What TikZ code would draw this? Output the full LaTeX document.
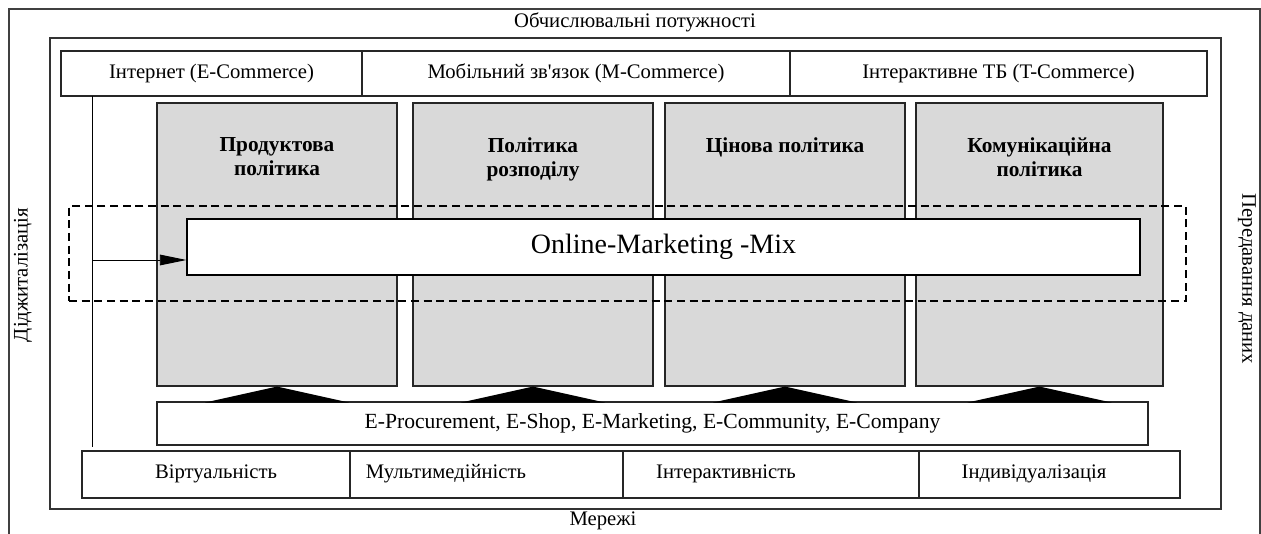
\documentclass[tikz,border=0pt]{standalone}
\usepackage{fontspec}
\setmainfont{Liberation Serif}[Ligatures=TeXOff]
\usetikzlibrary{arrows.meta,fit}

\definecolor{policygrey}{HTML}{D9D9D9}
\newcommand\txtnormal{\fontsize{15.5}{18}\selectfont}
\newcommand\txtwide{\fontsize{16.2}{19}\selectfont}
\newcommand\txtbig{\fontsize{21}{25}\selectfont}
\newcommand\txttitle{\fontsize{16}{18}\selectfont\bfseries}

\tikzset{
  frame/.style={draw=black!75, line width=1pt},
  inframe/.style={draw=black!80, line width=1.2pt, inner sep=0pt},
  cell/.style={draw=black!85, line width=0.8pt, inner sep=0pt},
  policy/.style={draw=black!85, fill=policygrey, line width=0.8pt, inner sep=0pt},
  ptitle/.style={font=\txttitle, align=center, anchor=north, inner sep=0pt},
  mixbox/.style={draw=black, fill=white, line width=0.8pt, inner sep=0pt},
  zone/.style={draw=black, dash pattern=on 6pt off 3.5pt, line width=1pt, inner sep=0pt},
  side/.style={font=\txtnormal, inner sep=0pt},
  bigtext/.style={font=\txtbig, inner sep=0pt},
  wedge/.style={fill=black},
  feed/.style={draw=black, line width=0.7pt},
}

\begin{document}
\begin{tikzpicture}[x=0.75pt,y=-0.75pt]
\useasboundingbox (0,0) rectangle (1261,534);
\clip (0,0) rectangle (1261,534);

% outer frame, open at the bottom
\draw[frame] (9,540) -- (9,9) -- (1260,9) -- (1260,540);
\node[side] (compute) at (635,22) {Обчислювальні потужності};
\node[side, rotate=90] (digital) at (23,275) {Діджиталізація};
\node[side, rotate=-90] (transfer) at (1247,279) {Передавання даних};
\node[side] (networks) at (603,521) {Мережі};

% inner frame
\node[inframe, fit={(50,38) (1221,509)}] (inner) {};

% channels
\node[cell, fit={(61,51) (362,96)}] (inet) {};
\node[cell, fit={(362,51) (790,96)}] (mobile) {};
\node[cell, fit={(790,51) (1207,96)}] (itv) {};
\node[side] (inett) at (inet.center) {Інтернет (E-Commerce)};
\node[side] (mobilet) at (mobile.center) {Мобільний зв'язок (M-Commerce)};
\node[side] (itvt) at (itv.center) {Інтерактивне ТБ (T-Commerce)};

% marketing-mix policies
\node[policy, fit={(157,103) (397,386)}] (prod) {};
\node[policy, fit={(413,103) (653,386)}] (dist) {};
\node[policy, fit={(665,103) (905,386)}] (price) {};
\node[policy, fit={(916,103) (1163,386)}] (comm) {};
\path (prod.north) ++(0,35) node[ptitle] (prodt) {Продуктова\\політика};
\path (dist.north) ++(0,35) node[ptitle] (distt) {Політика\\розподілу};
\path (price.north) ++(0,35) node[ptitle] (pricet) {Цінова політика};
\path (comm.north) ++(0,35) node[ptitle] (commt) {Комунікаційна\\політика};

% online marketing zone
\node[zone, fit={(69,206) (1186,301)}] (zone) {};
\node[mixbox, fit={(187,219) (1140,275)}] (mix) {};
\node[bigtext] (mixt) at (mix.center) {Online-Marketing -Mix};

% e-business forms
\node[cell, fit={(157,402) (1148,445)}] (ebiz) {};
\node[side, font=\txtwide] (ebizt) at (ebiz.center) {E-Procurement, E-Shop, E-Marketing, E-Community, E-Company};

% wedges from the e-business bar into each policy
\foreach \p in {prod,dist,price,comm}{
  \fill[wedge] (\p.south) ++(-72,16) -- (\p.south) -- ++(72,16) -- cycle;
}

% properties
\node[cell, fit={(82,451) (350,498)}] (virt) {};
\node[cell, fit={(350,451) (623,498)}] (multi) {};
\node[cell, fit={(623,451) (919,498)}] (inter) {};
\node[cell, fit={(919,451) (1180,498)}] (indiv) {};
\node[side] (virtt) at (216,474) {Віртуальність};
\node[side] (multit) at (446,474) {Мультимедійність};
\node[side] (intert) at (726,474) {Інтерактивність};
\node[side] (indivt) at (1034,474) {Індивідуалізація};

% feed line from the channels into the mix
\coordinate (feedtop) at (92,96);
\coordinate (feedbot) at (92,447);
\coordinate (feedmid) at (92,260);
\draw[feed] (feedtop) -- (feedbot);
\draw[feed, -{Triangle[length=20pt,width=8pt]}] (feedmid) -- (feedmid -| mix.west);
\end{tikzpicture}
\end{document}
